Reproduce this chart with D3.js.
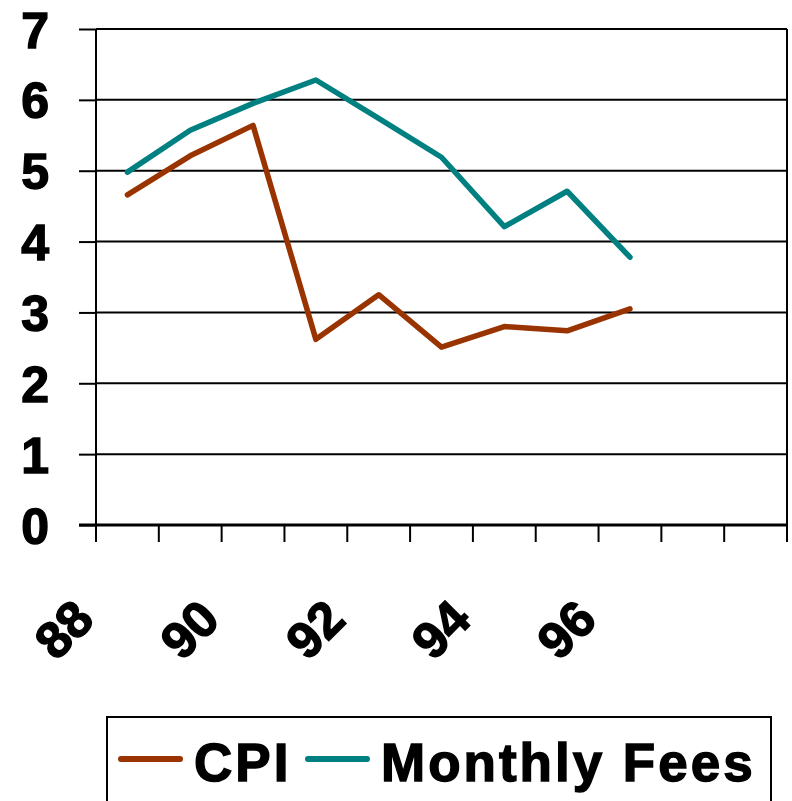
<!DOCTYPE html>
<html>
<head>
<meta charset="utf-8">
<script src="https://cdn.jsdelivr.net/npm/d3@7"></script>
<style>
	body { margin: 0; background: #fff; }
	text { font-family: Arial, "Liberation Sans", sans-serif; font-weight: bold; fill: #000; stroke: #000; stroke-width: 1.4px; }
</style>
</head>
<body>
<div id="chart"></div>
<script>
// data
var years = ["88", "89", "90", "91", "92", "93", "94", "95", "96", "97", "98"];
var yearLabels = ["88", "90", "92", "94", "96"];
var cpi = [4.66, 5.21, 5.64, 2.62, 3.25, 2.51, 2.80, 2.74, 3.05];
var monthlyFees = [4.98, 5.57, 5.95, 6.28, 5.74, 5.19, 4.21, 4.71, 3.78];
var yTicks = [0, 1, 2, 3, 4, 5, 6, 7];

var series = [
	{ name: "CPI", values: cpi, color: "#993300" },
	{ name: "Monthly Fees", values: monthlyFees, color: "#008080" }
];

var width = 792, height = 801;
var m = { left: 96, right: 5, top: 29, bottom: 276 };

var svg = d3.select("#chart").append("svg")
	.attr("width", width)
	.attr("height", height);

// scales
var x = d3.scaleBand()
	.domain(years)
	.range([m.left, width - m.right]);

var y = d3.scaleLinear()
	.domain([0, 7])
	.range([height - m.bottom, m.top]);

// gridlines
svg.append("g").selectAll("line")
	.data(yTicks.slice(1))
	.enter().append("line")
	.attr("x1", m.left)
	.attr("x2", width - m.right)
	.attr("y1", function(d) { return y(d); })
	.attr("y2", function(d) { return y(d); })
	.attr("stroke", "#000")
	.attr("stroke-width", 2);

// right border
svg.append("line")
	.attr("x1", width - m.right).attr("x2", width - m.right)
	.attr("y1", y(7)).attr("y2", y(0))
	.attr("stroke", "#000")
	.attr("stroke-width", 2);

// y axis
var yAxis = svg.append("g")
	.attr("transform", "translate(" + m.left + ",0)")
	.call(d3.axisLeft(y).tickValues(yTicks).tickSize(17).tickPadding(30).tickFormat(d3.format("d")));
yAxis.select(".domain").attr("stroke-width", 2).attr("d", "M0," + y(7) + "V" + y(0));
yAxis.selectAll(".tick line").attr("stroke-width", 2);
yAxis.selectAll(".tick text")
	.attr("font-size", 50)
	.attr("dy", "0.36em")
	.style("font-family", "Arial, 'Liberation Sans', sans-serif")
	.style("font-weight", "bold");

// x axis, ticks between categories
var bounds = years.map(function(d) { return x(d); }).concat([x.range()[1]]);
var xAxis = svg.append("g");
xAxis.append("line")
	.attr("x1", m.left - 17)
	.attr("x2", width - m.right)
	.attr("y1", y(0)).attr("y2", y(0))
	.attr("stroke", "#000")
	.attr("stroke-width", 3);
xAxis.selectAll(".xtick")
	.data(bounds)
	.enter().append("line")
	.attr("class", "xtick")
	.attr("x1", function(d) { return d; })
	.attr("x2", function(d) { return d; })
	.attr("y1", y(0))
	.attr("y2", y(0) + 17)
	.attr("stroke", "#000")
	.attr("stroke-width", 2);

xAxis.selectAll(".xlabel")
	.data(yearLabels)
	.enter().append("text")
	.attr("class", "xlabel")
	.attr("font-size", 51)
	.attr("text-anchor", "end")
	.attr("transform", function(d) {
		return "translate(" + (x(d) + x.bandwidth() / 2 - 31) + "," + (y(0) + 97) + ") rotate(-45)";
	})
	.text(function(d) { return d; });

// lines
var line = d3.line()
	.x(function(d, i) { return x(years[i]) + x.bandwidth() / 2; })
	.y(function(d) { return y(d); });

svg.append("g").selectAll("path")
	.data(series)
	.enter().append("path")
	.attr("d", function(d) { return line(d.values); })
	.attr("fill", "none")
	.attr("stroke", function(d) { return d.color; })
	.attr("stroke-width", 5.5)
	.attr("stroke-linejoin", "round")
	.attr("stroke-linecap", "round");

// legend
var legend = svg.append("g");
legend.append("rect")
	.attr("x", 107)
	.attr("y", 717)
	.attr("width", 664)
	.attr("height", 120)
	.attr("fill", "#fff")
	.attr("stroke", "#000")
	.attr("stroke-width", 2);

var legendX = [121, 308];
var item = legend.selectAll(".item")
	.data(series)
	.enter().append("g")
	.attr("class", "item")
	.attr("transform", function(d, i) { return "translate(" + legendX[i] + ",759)"; });

item.append("line")
	.attr("x1", 0).attr("x2", 59)
	.attr("stroke", function(d) { return d.color; })
	.attr("stroke-width", 6)
	.attr("stroke-linecap", "round");

item.append("text")
	.attr("x", 73)
	.attr("y", 22)
	.attr("font-size", 53)
	.attr("letter-spacing", 3)
	.text(function(d) { return d.name; });
</script>
</body>
</html>
